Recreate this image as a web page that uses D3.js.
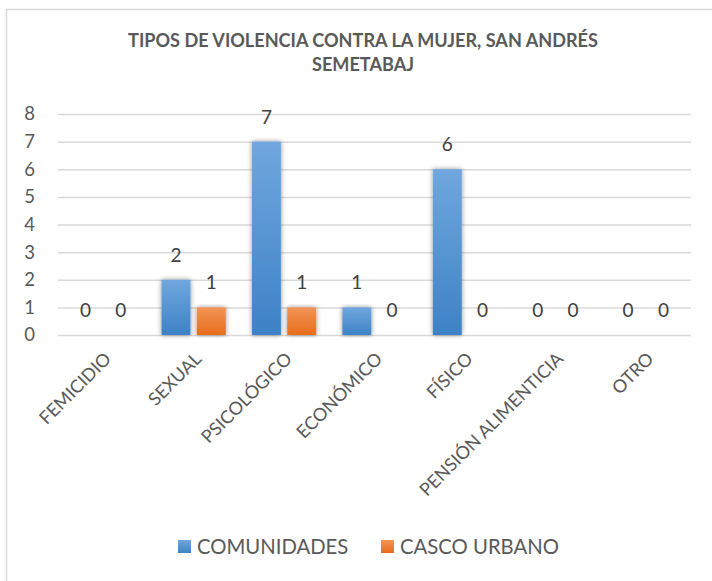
<!DOCTYPE html>
<html>
<head>
<meta charset="utf-8">
<script src="https://cdn.jsdelivr.net/npm/d3@7"></script>
<style>
  body { margin: 0; background: #fff; }
  text { font-family: Lato, "Open Sans", sans-serif; }
</style>
</head>
<body>
<svg id="chart"></svg>
<script>
// chart data
const categories = ['FEMICIDIO', 'SEXUAL', 'PSICOLÓGICO', 'ECONÓMICO', 'FÍSICO', 'PENSIÓN ALIMENTICIA', 'OTRO'];
const comunidades = [0, 2, 7, 1, 6, 0, 0];
const cascoUrbano = [0, 1, 1, 0, 0, 0, 0];
const seriesNames = ['COMUNIDADES', 'CASCO URBANO'];
const yTicks = [0, 1, 2, 3, 4, 5, 6, 7, 8];

const W = 712, H = 581;
const margin = { top: 114, right: 21, bottom: 246, left: 58 };
const width = W - margin.left - margin.right;
const height = H - margin.top - margin.bottom;

const svg = d3.select('#chart').attr('width', W).attr('height', H);

// gradients + soft shadow
const defs = svg.append('defs');
const grads = [
  { id: 'gBlue', top: '#70a7de', bottom: '#3d82c6' },
  { id: 'gOrange', top: '#f39457', bottom: '#e76d1b' }
];
grads.forEach(g => {
  const lg = defs.append('linearGradient').attr('id', g.id)
    .attr('x1', 0).attr('y1', 0).attr('x2', 0).attr('y2', 1);
  lg.append('stop').attr('offset', '0%').attr('stop-color', g.top);
  lg.append('stop').attr('offset', '100%').attr('stop-color', g.bottom);
});
const shadow = defs.append('filter').attr('id', 'shadow')
  .attr('x', '-30%').attr('y', '-10%').attr('width', '160%').attr('height', '120%');
shadow.append('feGaussianBlur').attr('in', 'SourceAlpha').attr('stdDeviation', 2.4).attr('result', 'b');
shadow.append('feComponentTransfer').attr('in', 'b').attr('result', 'bb')
  .append('feFuncA').attr('type', 'linear').attr('slope', 0.45);
const merge = shadow.append('feMerge');
merge.append('feMergeNode').attr('in', 'bb');
merge.append('feMergeNode').attr('in', 'SourceGraphic');

// outer frame (right and bottom edges run off the page)
svg.append('rect')
  .attr('x', 6.5).attr('y', 9.5).attr('width', W + 20).attr('height', H + 20)
  .attr('fill', 'none').attr('stroke', '#d9d9d9').attr('stroke-width', 1.5);

// title
const title = svg.append('text')
  .attr('x', 363).attr('y', 47)
  .attr('text-anchor', 'middle')
  .attr('font-weight', 'bold').attr('font-size', 18.1).attr('fill', '#595959');
title.append('tspan').attr('x', 363).attr('dy', 0).text('TIPOS DE VIOLENCIA CONTRA LA MUJER, SAN ANDRÉS');
title.append('tspan').attr('x', 363).attr('dy', 24).text('SEMETABAJ');

const g = svg.append('g').attr('transform', `translate(${margin.left},${margin.top})`);

const x0 = d3.scaleBand().domain(categories).range([0, width]).paddingInner(0.29).paddingOuter(0.145);
const x1 = d3.scaleBand().domain(seriesNames).range([0, x0.bandwidth()]).paddingInner(0.18);
const y = d3.scaleLinear().domain([0, 8]).range([height, 0]);

// gridlines
g.append('g')
  .call(d3.axisLeft(y).tickValues(yTicks).tickSize(-width).tickFormat(''))
  .call(s => s.select('.domain').remove())
  .call(s => s.selectAll('line').attr('stroke', '#d9d9d9').attr('stroke-width', 1.5));

// y tick labels
g.append('g')
  .call(d3.axisLeft(y).tickValues(yTicks).tickSize(0).tickPadding(23))
  .call(s => s.select('.domain').remove())
  .call(s => s.selectAll('text').attr('font-size', 18.5).attr('fill', '#595959')
    .style('font-family', 'Lato, sans-serif'));

// bars
const rows = categories.map((c, i) => ({ cat: c, vals: [comunidades[i], cascoUrbano[i]] }));
const fills = ['url(#gBlue)', 'url(#gOrange)'];

const groups = g.selectAll('.grp').data(rows).join('g')
  .attr('transform', d => `translate(${x0(d.cat)},0)`);

groups.selectAll('rect').data(d => d.vals.map((v, k) => ({ v, k })))
  .join('rect')
  .filter(d => d.v > 0)
  .attr('x', d => x1(seriesNames[d.k]))
  .attr('width', x1.bandwidth())
  .attr('y', d => y(d.v))
  .attr('height', d => height - y(d.v))
  .attr('fill', d => fills[d.k])
  .attr('filter', 'url(#shadow)');

groups.selectAll('text.lbl').data(d => d.vals.map((v, k) => ({ v, k })))
  .join('text').attr('class', 'lbl')
  .attr('x', d => x1(seriesNames[d.k]) + x1.bandwidth() / 2)
  .attr('y', d => y(d.v) - 18)
  .attr('text-anchor', 'middle')
  .attr('font-size', 19).attr('fill', '#404040')
  .text(d => d.v);

// x axis labels
const xa = g.append('g').attr('transform', `translate(0,${height})`)
  .call(d3.axisBottom(x0).tickSize(0).tickPadding(0));
xa.select('.domain').remove();
xa.selectAll('text')
  .attr('font-size', 18).attr('fill', '#595959')
  .style('font-family', 'Lato, sans-serif')
  .attr('text-anchor', 'end')
  .attr('dy', 0)
  .attr('transform', 'translate(9,25) rotate(-45)');

// legend
const legend = svg.append('g').attr('transform', 'translate(178,540)');
const items = [
  { name: seriesNames[0], fill: fills[0], x: 0 },
  { name: seriesNames[1], fill: fills[1], x: 203 }
];
const li = legend.selectAll('g').data(items).join('g')
  .attr('transform', d => `translate(${d.x},0)`);
li.append('rect').attr('width', 13).attr('height', 13).attr('fill', d => d.fill);
li.append('text').attr('x', 19).attr('y', 14)
  .attr('font-size', 20.3).attr('fill', '#595959').text(d => d.name);
</script>
</body>
</html>
